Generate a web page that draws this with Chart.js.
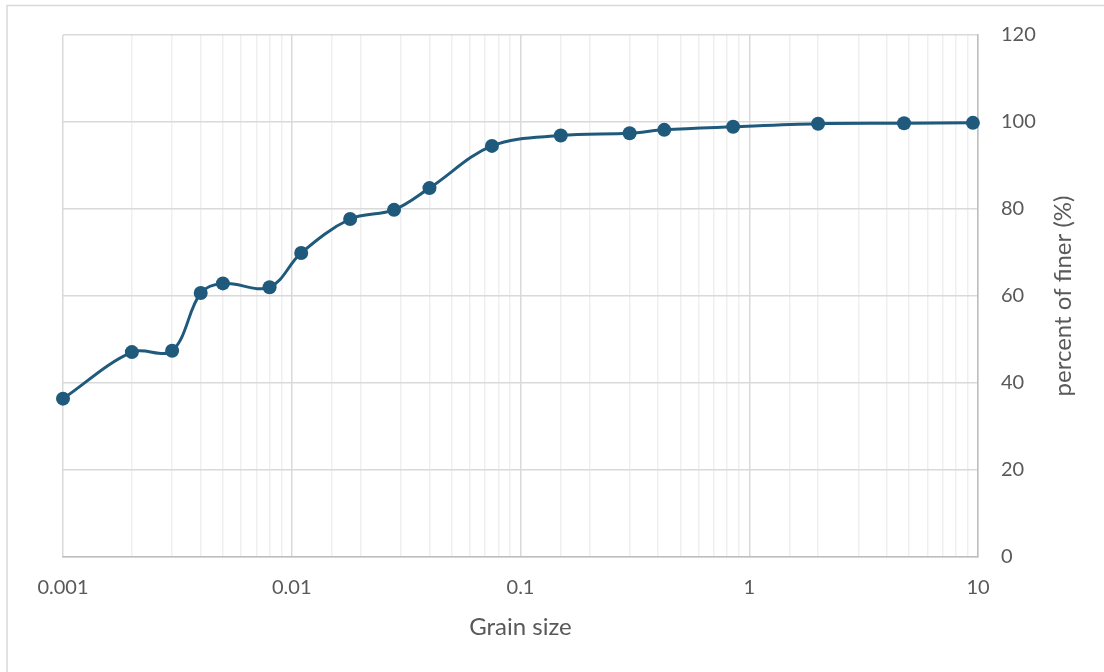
<!DOCTYPE html>
<html>
<head>
<meta charset="utf-8">
<script src="https://cdn.jsdelivr.net/npm/chart.js@4/dist/chart.umd.min.js"></script>
<style>
  html, body { margin: 0; padding: 0; background: #fff; }
  #wrap { position: relative; width: 1104px; height: 672px; }
</style>
</head>
<body>
<div id="wrap"><canvas id="graph"></canvas></div>
<script>
// grain size (mm) and percent finer
const grainSize = [0.001, 0.002, 0.003, 0.004, 0.005, 0.008, 0.011, 0.018, 0.028, 0.04,
  0.075, 0.15, 0.3, 0.425, 0.85, 2, 4.75, 9.5];
const percentFiner = [36.4, 47.1, 47.4, 60.7, 62.9, 62.0, 69.9, 77.7, 79.8, 84.8,
  94.5, 96.9, 97.4, 98.2, 98.9, 99.6, 99.7, 99.8];
const xTickLabels = [0.001, 0.01, 0.1, 1, 10];
const yTicks = [0, 20, 40, 60, 80, 100, 120];

const lineColor = "#1f5a7c";
const textColor = "#595959";
const fontName = "Lato";

const points = grainSize.map((x, i) => ({ x: x, y: percentFiner[i] }));

function isDecade(v) {
  const l = Math.log10(v);
  return Math.abs(l - Math.round(l)) < 1e-9;
}

// outer frame + rotated title for the right-hand axis
const extras = {
  id: "extras",
  beforeDraw(chart) {
    const ctx = chart.ctx;
    ctx.save();
    ctx.strokeStyle = "#d9d9d9";
    ctx.lineWidth = 1.5;
    ctx.beginPath();
    ctx.moveTo(7, 672);
    ctx.lineTo(7, 5.5);
    ctx.lineTo(1104, 5.5);
    ctx.stroke();
    ctx.restore();
  },
  afterDraw(chart) {
    const ctx = chart.ctx;
    const area = chart.chartArea;
    ctx.save();
    ctx.translate(1063, (area.top + area.bottom) / 2);
    ctx.rotate(-Math.PI / 2);
    ctx.fillStyle = textColor;
    ctx.font = "24px " + fontName;
    ctx.textAlign = "center";
    ctx.textBaseline = "middle";
    ctx.fillText("percent of finer (%)", 0, 0);
    ctx.restore();
  },
};

new Chart(document.getElementById("graph"), {
  type: "line",
  data: {
    datasets: [
      {
        data: points,
        borderColor: lineColor,
        backgroundColor: lineColor,
        borderWidth: 3,
        pointRadius: 7,
        pointHoverRadius: 7,
        pointBorderWidth: 0,
        tension: 0.35,
        fill: false,
        clip: false,
      },
    ],
  },
  options: {
    responsive: true,
    maintainAspectRatio: false,
    animation: false,
    layout: { padding: { left: 63, top: 34, right: 0, bottom: 0 } },
    plugins: {
      legend: { display: false },
      tooltip: { enabled: false },
    },
    scales: {
      x: {
        type: "logarithmic",
        min: 0.001,
        max: 10,
        afterFit(scale) {
          scale.height = 115;
        },
        border: { display: true, color: "#bfbfbf", width: 1.5 },
        grid: {
          drawTicks: false,
          lineWidth: 1.5,
          color: (c) => (c.tick && isDecade(c.tick.value) ? "#d9d9d9" : "#efefef"),
        },
        ticks: {
          autoSkip: false,
          maxRotation: 0,
          padding: 19,
          color: textColor,
          font: { family: fontName, size: 20 },
          callback: (v) => {
            const hit = xTickLabels.find((t) => Math.abs(t - v) / t < 1e-6);
            return hit === undefined ? "" : String(hit);
          },
        },
        title: {
          display: true,
          text: "Grain size",
          color: textColor,
          font: { family: fontName, size: 24 },
          padding: { top: 0, bottom: 30 },
        },
      },
      y: {
        position: "right",
        min: 0,
        max: 120,
        afterFit(scale) {
          scale.width = 126;
        },
        afterBuildTicks(scale) {
          scale.ticks = yTicks.map((v) => ({ value: v }));
        },
        border: { display: true, color: "#bfbfbf", width: 1.5 },
        grid: { drawTicks: false, lineWidth: 1.5, color: "#d9d9d9" },
        ticks: {
          padding: 23,
          color: textColor,
          font: { family: fontName, size: 20 },
        },
      },
    },
  },
  plugins: [extras],
});
</script>
</body>
</html>
